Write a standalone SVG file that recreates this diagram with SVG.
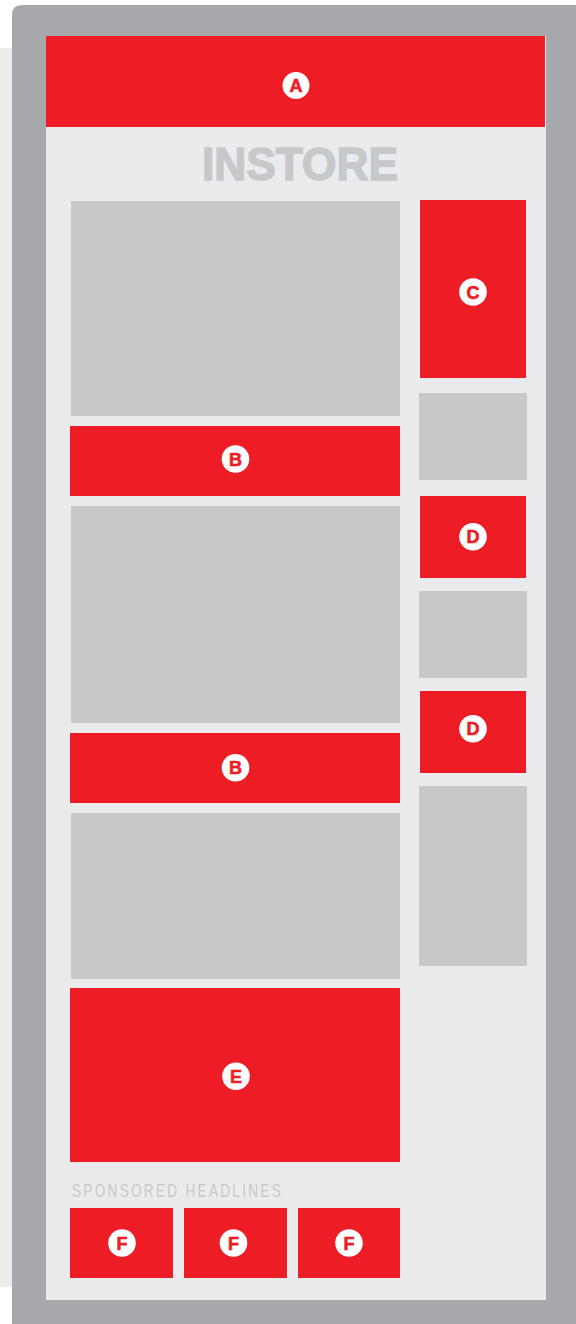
<svg xmlns="http://www.w3.org/2000/svg" width="576" height="1324" viewBox="0 0 576 1324">
<style>
.red{fill:#ee1d25}
.blk{fill:#c7c8ca}
.badge{fill:#ffffff}
.lbl{font-family:"Liberation Sans","DejaVu Sans",sans-serif;font-weight:900;font-size:18px;fill:#ee1d25;stroke:#ee1d25;stroke-width:0.6;text-anchor:middle;dominant-baseline:central}
</style>
<rect x="0" y="0" width="576" height="1324" fill="#ffffff"/>
<rect x="0" y="48" width="14" height="1239" fill="#eceeed"/>
<path d="M12 15 Q12 5 22 5 L576 5 L576 1324 L12 1324 Z" fill="#a7a8ac"/>
<rect x="46" y="36" width="500" height="1264" fill="#ebebed"/>
<text x="202" y="180" font-family="Liberation Sans, Arial, sans-serif" font-weight="bold" font-size="46" fill="#c7c8ca" stroke="#c7c8ca" stroke-width="1.5" textLength="196" lengthAdjust="spacingAndGlyphs">INSTORE</text>
<text x="72" y="1197" font-family="Liberation Sans, Arial, sans-serif" font-size="18" letter-spacing="3" fill="#c7c8ca" textLength="211" lengthAdjust="spacingAndGlyphs">SPONSORED HEADLINES</text>
<g id="nodeA"><rect class="red" x="46" y="36" width="499" height="91"/><circle class="badge" cx="296" cy="85.5" r="13.5"/><text class="lbl" x="296" y="86">A</text></g>
<g id="gray1"><rect class="blk" x="71" y="201" width="329" height="215"/></g>
<g id="nodeB1"><rect class="red" x="70" y="426" width="330" height="70"/><circle class="badge" cx="235.5" cy="459" r="13.8"/><text class="lbl" x="235.5" y="459.5">B</text></g>
<g id="gray2"><rect class="blk" x="71" y="506" width="329" height="217"/></g>
<g id="nodeB2"><rect class="red" x="70" y="733" width="330" height="70"/><circle class="badge" cx="235.5" cy="767.7" r="13.8"/><text class="lbl" x="235.5" y="768.2">B</text></g>
<g id="gray3"><rect class="blk" x="71" y="813" width="329" height="166"/></g>
<g id="nodeE"><rect class="red" x="70" y="988" width="330" height="174"/><circle class="badge" cx="236" cy="1076.3" r="13.8"/><text class="lbl" x="236" y="1076.8">E</text></g>
<g id="nodeC"><rect class="red" x="420" y="200" width="106" height="178"/><circle class="badge" cx="473" cy="292" r="13.8"/><text class="lbl" x="473" y="292.5">C</text></g>
<g id="grayR1"><rect class="blk" x="419" y="393" width="108" height="87"/></g>
<g id="nodeD1"><rect class="red" x="420" y="496" width="106" height="82"/><circle class="badge" cx="473" cy="536.7" r="13.8"/><text class="lbl" x="473" y="537.2">D</text></g>
<g id="grayR2"><rect class="blk" x="419" y="591" width="108" height="87"/></g>
<g id="nodeD2"><rect class="red" x="420" y="691" width="106" height="82"/><circle class="badge" cx="473" cy="728.7" r="13.8"/><text class="lbl" x="473" y="729.2">D</text></g>
<g id="grayR3"><rect class="blk" x="419" y="786" width="108" height="180"/></g>
<g id="nodeF1"><rect class="red" x="70" y="1208" width="103" height="70"/><circle class="badge" cx="122" cy="1243" r="13.8"/><text class="lbl" x="122" y="1243.5">F</text></g>
<g id="nodeF2"><rect class="red" x="184" y="1208" width="103" height="70"/><circle class="badge" cx="233.5" cy="1243" r="13.8"/><text class="lbl" x="233.5" y="1243.5">F</text></g>
<g id="nodeF3"><rect class="red" x="298" y="1208" width="102" height="70"/><circle class="badge" cx="349" cy="1243" r="13.8"/><text class="lbl" x="349" y="1243.5">F</text></g>
<g id="connectors"></g>
</svg>
